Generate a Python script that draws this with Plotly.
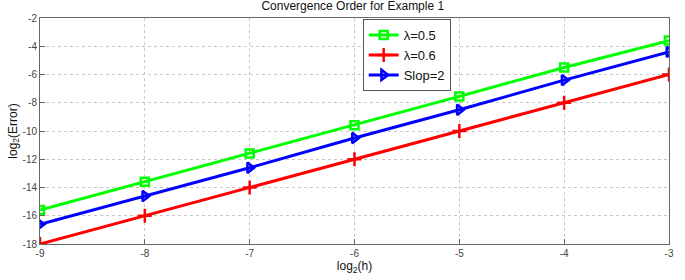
import plotly.graph_objects as go

x_vals = [-9, -8, -7, -6, -5, -4, -3]
lam05 = [-15.6, -13.6, -11.6, -9.6, -7.55, -5.5, -3.6]
lam06 = [-18, -16, -14, -12, -10, -8, -6]
slope2 = [-16.6, -14.6, -12.6, -10.5, -8.5, -6.4, -4.4]
x_ticks = [-9, -8, -7, -6, -5, -4, -3]
y_ticks = [-18, -16, -14, -12, -10, -8, -6, -4, -2]

fig = go.Figure()
fig.add_trace(go.Scatter(x=x_vals, y=lam05, mode="lines+markers", name="λ=0.5",
                         line=dict(color="#00ff00", width=3),
                         marker=dict(symbol="square-open", size=8, color="#00ff00", line=dict(width=2.5))))
fig.add_trace(go.Scatter(x=x_vals, y=lam06, mode="lines+markers", name="λ=0.6",
                         line=dict(color="#ff0000", width=3),
                         marker=dict(symbol="cross-thin", size=10, color="#ff0000", line=dict(width=2.5, color="#ff0000"))))
fig.add_trace(go.Scatter(x=x_vals, y=slope2, mode="lines+markers", name="Slop=2",
                         line=dict(color="#0000ff", width=3),
                         marker=dict(symbol="triangle-right-open", size=9, color="#0000ff", line=dict(width=2.5))))

axis_common = dict(showline=True, linecolor="#666666", linewidth=1, mirror=True,
                   ticks="inside", ticklen=5, tickcolor="#666666",
                   showgrid=True, gridcolor="#c8c8c8", griddash="dot", gridwidth=1,
                   zeroline=False, tickfont=dict(size=10, color="#444444"),
                   ticklabeloverflow="allow")

fig.update_layout(
    width=685, height=280,
    margin=dict(l=40, r=11, t=18, b=35),
    paper_bgcolor="white", plot_bgcolor="white",
    font=dict(family="Liberation Sans, Arial, sans-serif", color="#111111"),
    title=dict(text="Convergence Order for Example 1", x=0.515, xanchor="center",
               y=0.995, yanchor="top", yref="container", font=dict(size=12)),
    xaxis=dict(range=[-9, -3], tickvals=x_ticks, ticktext=[str(v) for v in x_ticks],
               title=dict(text="log<sub>2</sub>(h)", font=dict(size=12), standoff=2), **axis_common),
    yaxis=dict(range=[-18, -2], tickvals=y_ticks, ticktext=[str(v) for v in y_ticks],
               title=dict(text="log<sub>2</sub>(Error)", font=dict(size=12), standoff=2), **axis_common),
    legend=dict(x=0.513, y=0.995, xanchor="left", yanchor="top",
                bgcolor="white", bordercolor="#555555", borderwidth=1,
                font=dict(size=13), itemwidth=30, tracegroupgap=0),
    showlegend=True,
)

fig.write_html("out.html", config={"displayModeBar": False},
               post_script="document.body.style.margin='0';document.body.style.overflow='hidden';")
